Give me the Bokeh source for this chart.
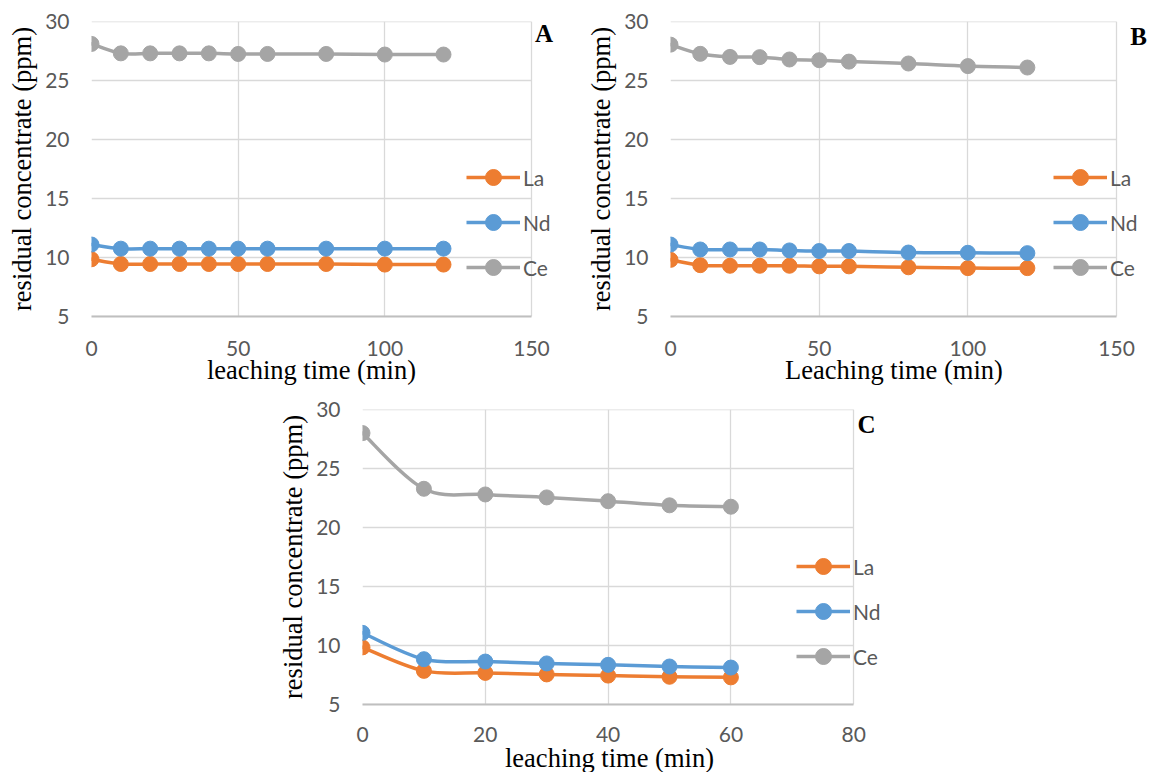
import numpy as np
from bokeh.plotting import figure
from bokeh.layouts import row, column
from bokeh.models import Spacer, Legend, LegendItem, Label, FixedTicker, Title
from bokeh.embed import file_html
from bokeh.resources import INLINE

# ---------------- data ----------------
time_ab = [0, 10, 20, 30, 40, 50, 60, 80, 100, 120]
time_c = [0, 10, 20, 30, 40, 50, 60]

la_a = [9.85, 9.45, 9.45, 9.45, 9.45, 9.45, 9.45, 9.45, 9.4, 9.4]
nd_a = [11.1, 10.75, 10.75, 10.75, 10.75, 10.75, 10.75, 10.75, 10.75, 10.75]
ce_a = [28.1, 27.3, 27.3, 27.3, 27.3, 27.25, 27.25, 27.25, 27.2, 27.2]

la_b = [9.8, 9.35, 9.3, 9.3, 9.3, 9.25, 9.25, 9.17, 9.1, 9.1]
nd_b = [11.1, 10.68, 10.68, 10.68, 10.6, 10.55, 10.55, 10.42, 10.4, 10.37]
ce_b = [28.04, 27.26, 27.0, 26.98, 26.78, 26.72, 26.6, 26.44, 26.22, 26.1]

la_c = [9.84, 7.85, 7.68, 7.55, 7.45, 7.35, 7.3]
nd_c = [11.07, 8.84, 8.64, 8.48, 8.36, 8.22, 8.13]
ce_c = [28.0, 23.28, 22.8, 22.55, 22.23, 21.88, 21.76]

series_names = ["La", "Nd", "Ce"]
series_colors = ["#ED7D31", "#5B9BD5", "#A5A5A5"]

x_ticks_ab = [0, 50, 100, 150]
x_ticks_c = [0, 20, 40, 60, 80]
y_ticks = [5, 10, 15, 20, 25, 30]

y_title = "residual concentrate (ppm)"

TICK_FONT = "Lato"
SERIF = "Liberation Serif"
TITLE_PX = 26.5
TICK_COLOR = "#595959"
GRID_COLOR = "#D9D9D9"

# advance widths of Liberation Serif (Times metrics), per 1000 em
SERIF_W = {"l": 278, "e": 444, "a": 444, "c": 444, "h": 500, "i": 278, "n": 500,
           "g": 500, " ": 250, "t": 278, "m": 778, "(": 333, ")": 333, "L": 611}


def serif_width(text, px):
    return sum(SERIF_W.get(ch, 500) for ch in text) * px / 1000.0


def smooth(x, y):
    """Cubic Bezier segments (Catmull-Rom style, like Excel's smoothed line)."""
    x = np.asarray(x, float)
    y = np.asarray(y, float)
    n = len(x)
    xp = np.concatenate([[x[0]], x, [x[-1]]])
    yp = np.concatenate([[y[0]], y, [y[-1]]])
    return dict(
        x0=x[:-1], y0=y[:-1], x1=x[1:], y1=y[1:],
        cx0=x[:-1] + (xp[2:n + 1] - xp[0:n - 1]) / 6.0,
        cy0=y[:-1] + (yp[2:n + 1] - yp[0:n - 1]) / 6.0,
        cx1=x[1:] - (xp[3:n + 2] - xp[1:n]) / 6.0,
        cy1=y[1:] - (yp[3:n + 2] - yp[1:n]) / 6.0,
    )


def panel(times, series, xticks, xtitle, letter, letter_xy,
          bl, plot_w, frame_w, br, bt, frame_h, bb, legend_xy,
          tick_standoff, title_standoff):
    x_end = xticks[-1]
    # the frame extends to the right of the plot area so that the legend
    # and the panel letter (which sit beyond x_end) are not clipped
    x_ext = x_end * frame_w / plot_w
    p = figure(width=bl + frame_w + br, height=bt + frame_h + bb,
               x_range=(0, x_ext), y_range=(5, 30),
               output_backend="svg", toolbar_location=None,
               min_border_left=bl, min_border_right=br,
               min_border_top=bt, min_border_bottom=bb)
    p.outline_line_color = None
    p.border_fill_color = "white"
    p.background_fill_color = "white"

    p.xaxis.ticker = FixedTicker(ticks=xticks)
    p.yaxis.ticker = FixedTicker(ticks=y_ticks)
    p.xaxis.bounds = (0, x_end)
    p.xgrid.grid_line_color = GRID_COLOR
    p.xgrid.grid_line_width = 1.3
    p.ygrid.visible = False
    p.segment(x0=0, x1=x_end, y0=y_ticks, y1=y_ticks, line_color=GRID_COLOR,
              line_width=1.3, level="underlay")

    for ax in (p.xaxis, p.yaxis):
        ax.major_tick_line_color = None
        ax.minor_tick_line_color = None
        ax.major_tick_out = 0
        ax.major_tick_in = 0
        ax.major_label_text_font = TICK_FONT
        ax.major_label_text_font_size = "21px"
        ax.major_label_text_color = TICK_COLOR
    p.xaxis.axis_line_color = "#BFBFBF"
    p.xaxis.axis_line_width = 2
    p.yaxis.axis_line_color = None
    p.xaxis.major_label_standoff = tick_standoff
    p.yaxis.major_label_standoff = 22

    p.yaxis.axis_label = y_title
    p.yaxis.axis_label_standoff = 5
    p.yaxis.axis_label_text_font = SERIF
    p.yaxis.axis_label_text_font_size = f"{TITLE_PX}px"
    p.yaxis.axis_label_text_font_style = "normal"
    p.yaxis.axis_label_text_color = "black"

    # x title centred on the plot area (0..x_end), not on the wider frame
    offset = plot_w / 2 - serif_width(xtitle, TITLE_PX) / 2
    p.add_layout(Title(text=xtitle, align="left", offset=offset,
                       standoff=title_standoff, vertical_align="middle",
                       text_font=SERIF, text_font_size=f"{TITLE_PX}px",
                       text_font_style="normal", text_color="black"), "below")

    items = []
    for (name, color, vals) in zip(series_names, series_colors, series):
        seg = smooth(times, vals)
        p.bezier(line_color=color, line_width=3.5, line_cap="round", **seg)
        dummy = p.line(x=[np.nan], y=[np.nan], line_color=color, line_width=3.5)
        sc = p.scatter(x=times, y=vals, size=15, marker="circle",
                       fill_color=color, line_color=color)
        items.append(LegendItem(label=name, renderers=[dummy, sc]))

    legend = Legend(items=items, location=legend_xy, glyph_width=54, glyph_height=40,
                    spacing=5, padding=0, margin=0, border_line_color=None,
                    background_fill_alpha=0, label_standoff=3,
                    label_text_font=TICK_FONT, label_text_font_size="21px",
                    label_text_color=TICK_COLOR)
    p.add_layout(legend, "center")

    p.add_layout(Label(x=letter_xy[0], y=letter_xy[1], text=letter,
                       text_align="left", text_baseline="middle",
                       text_font=SERIF, text_font_size="25px",
                       text_font_style="bold", text_color="black"))
    return p


pA = panel(time_ab, [la_a, nd_a, ce_a], x_ticks_ab, "leaching time (min)", "A",
           (151.2, 28.95), bl=91, plot_w=440, frame_w=480, br=12,
           bt=21, frame_h=295, bb=74, legend_xy=(375, 29),
           tick_standoff=24, title_standoff=-10)
pB = panel(time_ab, [la_b, nd_b, ce_b], x_ticks_ab, "Leaching time (min)", "B",
           (154.6, 28.75), bl=86, plot_w=447, frame_w=484, br=1,
           bt=17, frame_h=299, bb=74, legend_xy=(383, 29),
           tick_standoff=24, title_standoff=-10)
pC = panel(time_c, [la_c, nd_c, ce_c], x_ticks_c, "leaching time (min)", "C",
           (80.6, 28.76), bl=84, plot_w=494, frame_w=531, br=10,
           bt=19, frame_h=295, bb=68, legend_xy=(434, 28),
           tick_standoff=22, title_standoff=-5)

layout = column(row(pA, pB), row(Spacer(width=275, height=10), pC))

open("out.html", "w").write(file_html(layout, INLINE))
